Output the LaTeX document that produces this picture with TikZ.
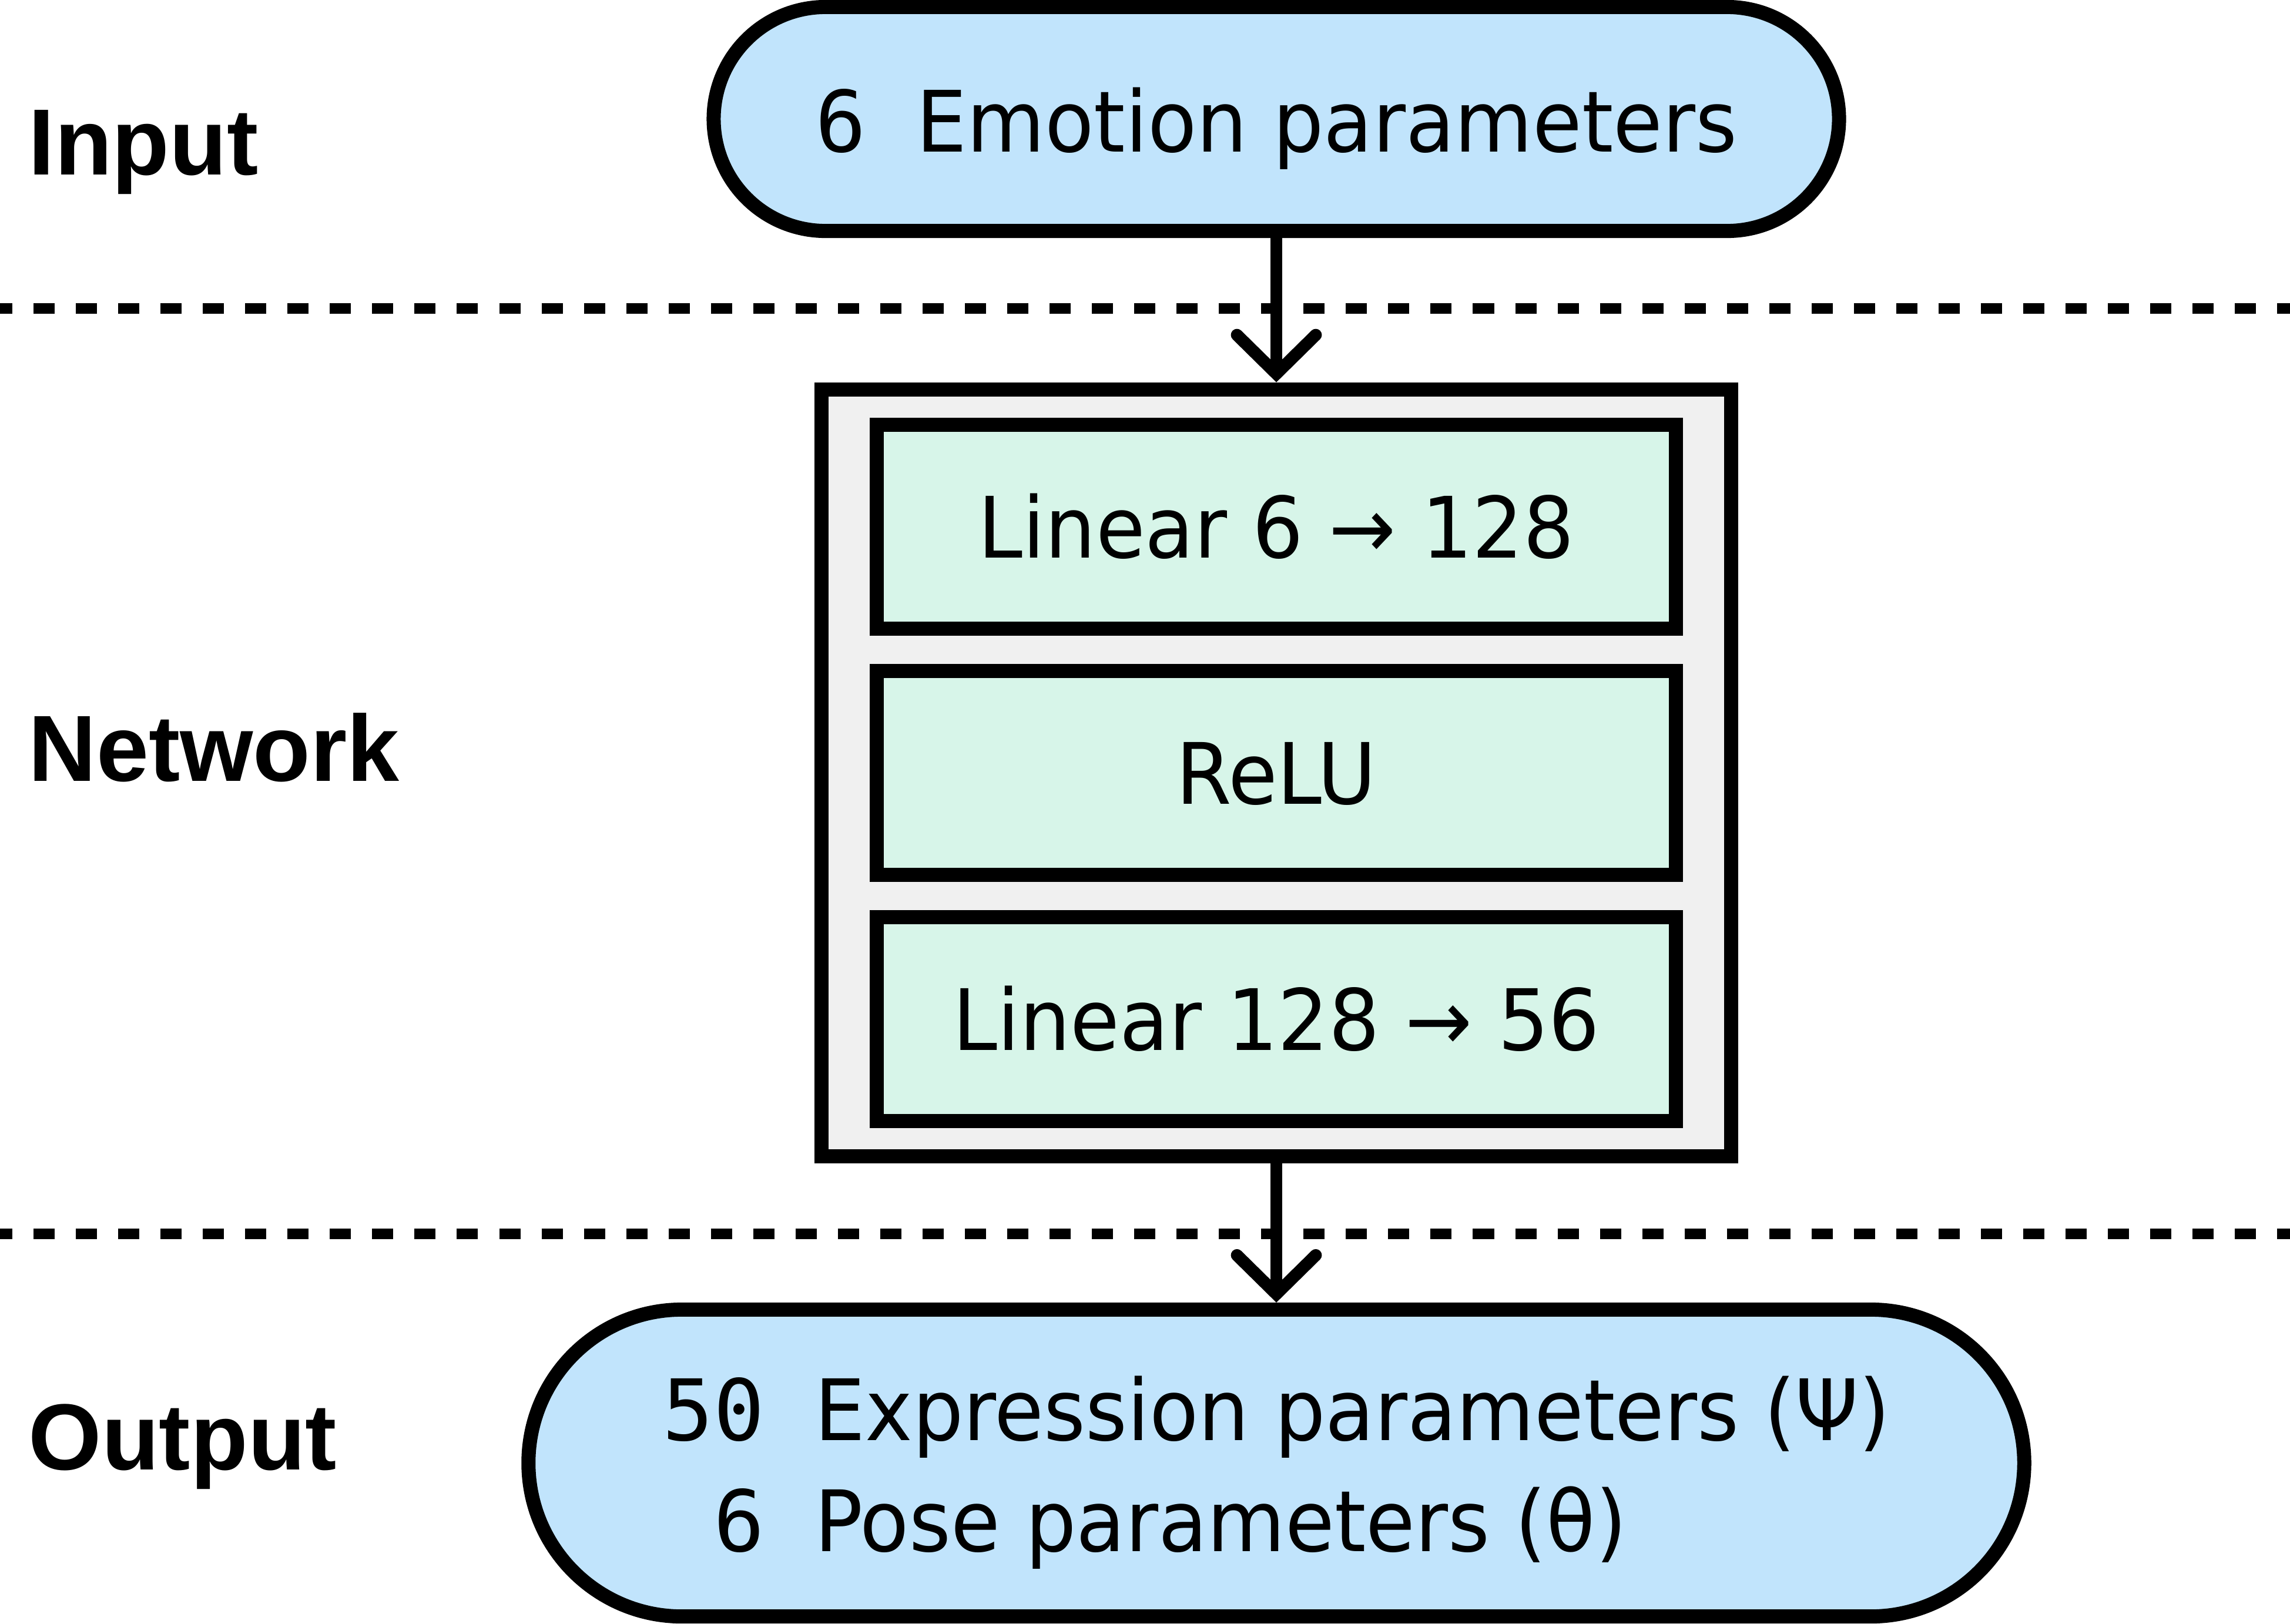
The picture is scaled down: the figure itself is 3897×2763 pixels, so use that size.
\documentclass[tikz,border=0pt]{standalone}
\usepackage{fontspec}
\setmainfont{DejaVu Sans}[FakeStretch=0.945]
\newfontfamily\numfont{DejaVu Sans Mono}
\newfontfamily\labfont{Liberation Sans}
\usetikzlibrary{arrows.meta}
\definecolor{pillblue}{HTML}{C1E4FC}
\definecolor{layergreen}{HTML}{D7F5E9}
\definecolor{netgray}{HTML}{F0F0F0}
\tikzset{
  stroke/.style={draw=black, line width=0.24cm, inner sep=0pt, outer sep=0pt},
  bodytext/.style={font=\fontsize{41pt}{53.8pt}\selectfont},
  pill/.style={stroke, bodytext, fill=pillblue},
  netbox/.style={stroke, fill=netgray},
  layer/.style={stroke, bodytext, fill=layergreen, minimum width=13.6cm, minimum height=3.47cm, text height=1.06cm, text depth=0pt},
  lab/.style={anchor=base west, inner sep=0pt, font=\labfont\bfseries\fontsize{45.5pt}{54pt}\selectfont},
  sep/.style={line width=0.18cm, dash pattern=on 0.36cm off 0.36cm, dash phase=0.15cm},
  conn/.style={line width=0.207cm, shorten >=0.12cm, -{Straight Barb[length=0.66cm, width=1.34cm, line cap=round, line join=miter]}}
}
\begin{document}
\begin{tikzpicture}[x=0.01cm, y=-0.01cm]
  \fill[white] (0,0) rectangle (3897,2763);
  \useasboundingbox (0,0) rectangle (3897,2763);

  % separators
  \coordinate (s1l) at (0,525);
  \coordinate (s1r) at (3897,525);
  \coordinate (s2l) at (0,2100);
  \coordinate (s2r) at (3897,2100);
  \draw[sep] (s1l) -- (s1r);
  \draw[sep] (s2l) -- (s2r);

  % row labels
  \node[lab] (linput) at (48,297) {Input};
  \node[lab] (lnet) at (48,1329) {Network};
  \node[lab] (lout) at (48,2501) {Output};

  % input
  \node[pill, minimum width=19.14cm, minimum height=3.81cm, rounded corners=1.905cm,
        text height=1.11cm, text depth=0pt] (inp) at (2172,202.5)
        {{\numfont 6}\hspace{0.85cm}Emotion parameters};

  % network
  \node[netbox, minimum width=15.48cm, minimum height=13.05cm] (net) at (2172,1315.5) {};
  \node[layer] (l1) at (2172,896.5) {Linear 6 → 128};
  \node[layer] (l2) at (2172,1315.5) {ReLU};
  \node[layer] (l3) at (2172,1734.5) {Linear 128 → 56};

  % output
  \node[pill, minimum width=25.44cm, minimum height=5.22cm, rounded corners=2.61cm,
        text height=1.0cm, text depth=1.78cm] (out) at (2172,2490)
        {\begin{tabular}[t]{@{}r@{\hspace{0.85cm}}l@{}}
          {\numfont 50} & Expression parameters (Ψ)\\
          {\numfont 6} & Pose parameters (θ)
         \end{tabular}};

  % connectors
  \draw[conn] (inp.south) -- (net.north);
  \draw[conn] (net.south) -- (out.north);
\end{tikzpicture}
\end{document}
